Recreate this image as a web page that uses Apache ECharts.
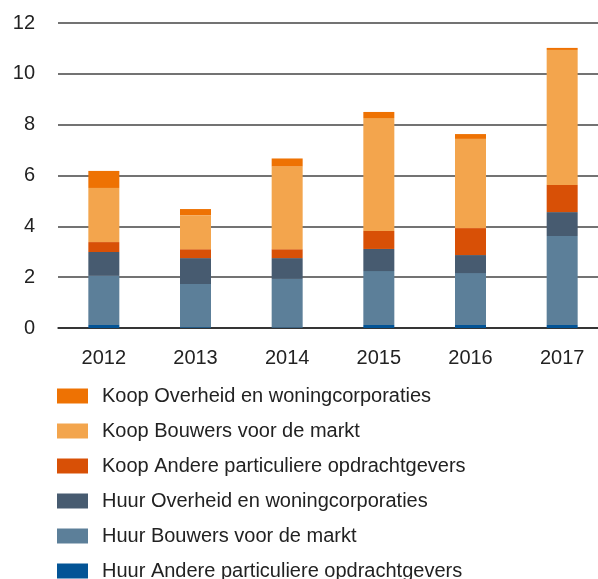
<!DOCTYPE html>
<html>
<head>
<meta charset="utf-8">
<script src="https://cdn.jsdelivr.net/npm/echarts@6/dist/echarts.min.js"></script>
<style>
  html, body { margin: 0; padding: 0; background: #fff; }
  #main { width: 598px; height: 579px; }
</style>
</head>
<body>
<div id="main"></div>
<script>
// jaren
const years = ["2012", "2013", "2014", "2015", "2016", "2017"];

// waarden per reeks (van onder naar boven gestapeld)
const huurAndere = [0.12, 0.03, 0.02, 0.12, 0.12, 0.12];
const huurBouwers = [1.93, 1.70, 1.91, 2.12, 2.04, 3.50];
const huurOverheid = [0.94, 1.02, 0.82, 0.87, 0.71, 0.94];
const koopAndere = [0.39, 0.35, 0.35, 0.71, 1.06, 1.07];
const koopBouwers = [2.13, 1.34, 3.26, 4.44, 3.51, 5.31];
const koopOverheid = [0.67, 0.24, 0.31, 0.24, 0.19, 0.08];

const yTicks = [0, 2, 4, 6, 8, 10, 12];

const font = "'Liberation Sans', Arial, sans-serif";

const seriesDefs = [
  { name: "Huur Andere particuliere opdrachtgevers", data: huurAndere, color: "#035496" },
  { name: "Huur Bouwers voor de markt", data: huurBouwers, color: "#5c7f99" },
  { name: "Huur Overheid en woningcorporaties", data: huurOverheid, color: "#475b70" },
  { name: "Koop Andere particuliere opdrachtgevers", data: koopAndere, color: "#d85006" },
  { name: "Koop Bouwers voor de markt", data: koopBouwers, color: "#f3a54d" },
  { name: "Koop Overheid en woningcorporaties", data: koopOverheid, color: "#ee7203" }
];

const legendNames = seriesDefs.map(s => s.name).reverse();

// één legenda per regel, anders loopt de kolom over naar rechts
const legends = legendNames.map((name, i) => ({
  orient: "vertical",
  left: 52,
  top: 381 + i * 35,
  itemWidth: 31,
  itemHeight: 15,
  icon: "rect",
  data: [name],
  textStyle: {
    fontFamily: font,
    fontSize: 20,
    color: "#222",
    padding: [0, 0, 0, 9]
  }
}));

const chart = echarts.init(document.getElementById("main"));

chart.setOption({
  animation: false,
  grid: {
    left: 58,
    top: 23,
    right: -10,
    bottom: 251,
    containLabel: false,
    outerBoundsMode: "none"
  },
  legend: legends,
  xAxis: {
    type: "category",
    data: years,
    axisTick: { show: false },
    axisLine: { lineStyle: { color: "#222", width: 1.5 } },
    axisLabel: {
      fontFamily: font,
      fontSize: 20,
      color: "#222",
      margin: 20
    }
  },
  yAxis: {
    type: "value",
    min: yTicks[0],
    max: yTicks[yTicks.length - 1],
    interval: 2,
    axisLine: { show: false },
    axisTick: { show: false },
    splitLine: { lineStyle: { color: "#444", width: 1.5 } },
    axisLabel: {
      fontFamily: font,
      fontSize: 20,
      color: "#222",
      margin: 23
    }
  },
  series: seriesDefs.map(s => ({
    name: s.name,
    type: "bar",
    stack: "totaal",
    barWidth: 31,
    data: s.data,
    itemStyle: { color: s.color }
  }))
});
</script>
</body>
</html>
